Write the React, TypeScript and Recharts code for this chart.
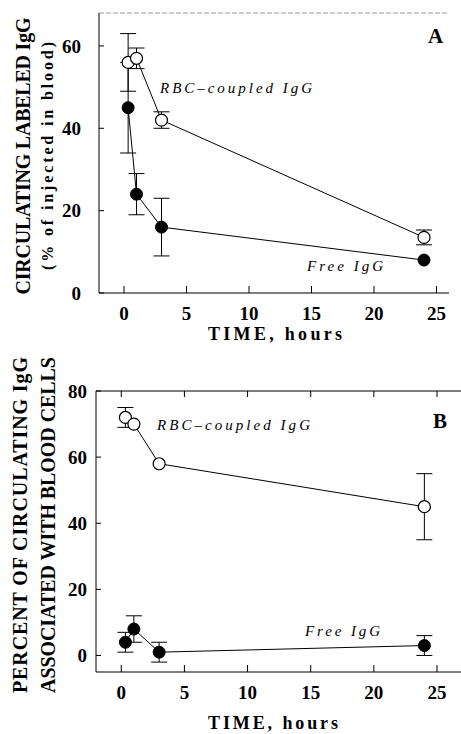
import React from "react";
import { LineChart, Line, XAxis, YAxis, ErrorBar } from "recharts";

// Sampling times (hours after injection)
const hours = [0.33, 1, 3, 24];

// Panel A: circulating labeled IgG, % of injected dose in blood
const rbcCirculating = [56, 57, 42, 13.5];
const rbcCirculatingErr = [7, 2.5, 2, 1.8];
const freeCirculating = [45, 24, 16, 8];
const freeCirculatingErr = [11, 5, 7, 0];

// Panel B: percent of circulating IgG associated with blood cells
const rbcCellBound = [72, 70, 58, 45];
const rbcCellBoundErr = [3, 0, 0, 10];
const freeCellBound = [4, 8, 1, 3];
const freeCellBoundErr = [3, 4, 3, 3];

const xTicks = [0, 5, 10, 15, 20, 25];
const yTicksA = [0, 20, 40, 60];
const yTicksB = [0, 20, 40, 60, 80];

const serif = "'Liberation Serif', 'Times New Roman', serif";

const rowsA = hours.map((t, i) => ({
  t,
  rbc: rbcCirculating[i],
  rbcErr: rbcCirculatingErr[i],
  free: freeCirculating[i],
  freeErr: freeCirculatingErr[i],
}));

const rowsB = hours.map((t, i) => ({
  t,
  rbc: rbcCellBound[i],
  rbcErr: rbcCellBoundErr[i],
  free: freeCellBound[i],
  freeErr: freeCellBoundErr[i],
}));

// y ticks: short inward mark, label to the left of the axis line
const makeYTick = (labelGap: number) => (props: any) => {
  const { x, y, payload } = props;
  return (
    <g>
      <line x1={x} x2={x + 5} y1={y} y2={y} stroke="#000" strokeWidth={1} />
      <text
        x={x - labelGap}
        y={y}
        dy="0.36em"
        textAnchor="end"
        fontFamily={serif}
        fontWeight="bold"
        fontSize={19}
        fill="#000"
      >
        {payload.value}
      </text>
    </g>
  );
};

// x ticks: inward (upward) mark, label below the axis line
const BottomTick = (props: any) => {
  const { x, y, payload } = props;
  return (
    <g>
      <line x1={x} x2={x} y1={y} y2={y - 7} stroke="#000" strokeWidth={1} />
      <text
        x={x}
        y={y + 20}
        dy="0.36em"
        textAnchor="middle"
        fontFamily={serif}
        fontWeight="bold"
        fontSize={19}
        fill="#000"
      >
        {payload.value}
      </text>
    </g>
  );
};

const TopTick = (props: any) => {
  const { x, y } = props;
  return <line x1={x} x2={x} y1={y} y2={y + 6} stroke="#000" strokeWidth={1} />;
};

const openDot = { r: 6, fill: "#fff", stroke: "#000", strokeWidth: 1.2 };
const filledDot = { r: 6, fill: "#000", stroke: "#000", strokeWidth: 1 };

const Annot = ({
  x,
  y,
  len,
  children,
  size = 15,
  italic = false,
  weight = "bold",
  rotate = false,
}: any) => (
  <text
    x={x}
    y={y}
    textAnchor={rotate ? "middle" : "start"}
    transform={rotate ? `rotate(-90 ${x} ${y})` : undefined}
    dy={rotate ? "0.36em" : undefined}
    fontFamily={serif}
    fontSize={size}
    fontWeight={weight}
    fontStyle={italic ? "italic" : "normal"}
    textLength={len}
    lengthAdjust="spacing"
    fill="#000"
  >
    {children}
  </text>
);

const AXIS_H = 40;
const AXIS_W = 60;

export default function App() {
  return (
    <div
      style={{
        position: "absolute",
        left: 0,
        top: 0,
        width: 461,
        height: 734,
        background: "#fff",
        overflow: "hidden",
      }}
    >
      {/* Panel A */}
      <div style={{ position: "absolute", left: 0, top: 0 }}>
        <LineChart
          width={461}
          height={350}
          data={rowsA}
          margin={{ top: 3, right: 12, bottom: 57 - AXIS_H, left: 99 - AXIS_W }}
        >
          <XAxis
            dataKey="t"
            type="number"
            domain={[-2, 26]}
            ticks={xTicks}
            height={AXIS_H}
            tickSize={0}
            tickMargin={0}
            tickLine={false}
            tick={BottomTick}
            stroke="#000"
            allowDataOverflow
          />
          <XAxis
            xAxisId="top"
            orientation="top"
            dataKey="t"
            type="number"
            domain={[-2, 26]}
            height={10}
            tick={false}
            tickLine={false}
            stroke="#999"
            strokeDasharray="5 2"
          />
          <YAxis
            type="number"
            domain={[0, 68]}
            ticks={yTicksA}
            width={AXIS_W}
            tickSize={0}
            tickMargin={0}
            tickLine={false}
            tick={makeYTick(18)}
            stroke="#000"
            allowDataOverflow
          />
          <Line
            dataKey="rbc"
            stroke="#000"
            strokeWidth={1}
            dot={openDot}
            activeDot={false}
            isAnimationActive={false}
          >
            <ErrorBar dataKey="rbcErr" width={8} stroke="#000" strokeWidth={1} direction="y" isAnimationActive={false} />
          </Line>
          <Line
            dataKey="free"
            stroke="#000"
            strokeWidth={1}
            dot={filledDot}
            activeDot={false}
            isAnimationActive={false}
          >
            <ErrorBar dataKey="freeErr" width={8} stroke="#000" strokeWidth={1} direction="y" isAnimationActive={false} />
          </Line>
        </LineChart>
      </div>

      {/* Panel B */}
      <div style={{ position: "absolute", left: 0, top: 360 }}>
        <LineChart
          width={461}
          height={374}
          data={rowsB}
          margin={{ top: 21, right: 0, bottom: 62 - AXIS_H, left: 96 - AXIS_W }}
        >
          <XAxis
            dataKey="t"
            type="number"
            domain={[-2, 26.9]}
            ticks={xTicks}
            height={AXIS_H}
            tickSize={0}
            tickMargin={0}
            tickLine={false}
            tick={BottomTick}
            stroke="#000"
            allowDataOverflow
          />
          <XAxis
            xAxisId="top"
            orientation="top"
            dataKey="t"
            type="number"
            domain={[-2, 26.9]}
            ticks={xTicks}
            height={10}
            tickSize={0}
            tickMargin={0}
            tickLine={false}
            tick={TopTick}
            stroke="#000"
          />
          <YAxis
            type="number"
            domain={[-5, 80]}
            ticks={yTicksB}
            width={AXIS_W}
            tickSize={0}
            tickMargin={0}
            tickLine={false}
            tick={makeYTick(9)}
            stroke="#000"
            allowDataOverflow
          />
          <Line
            dataKey="rbc"
            stroke="#000"
            strokeWidth={1}
            dot={openDot}
            activeDot={false}
            isAnimationActive={false}
          >
            <ErrorBar dataKey="rbcErr" width={8} stroke="#000" strokeWidth={1} direction="y" isAnimationActive={false} />
          </Line>
          <Line
            dataKey="free"
            stroke="#000"
            strokeWidth={1}
            dot={filledDot}
            activeDot={false}
            isAnimationActive={false}
          >
            <ErrorBar dataKey="freeErr" width={8} stroke="#000" strokeWidth={1} direction="y" isAnimationActive={false} />
          </Line>
        </LineChart>
      </div>

      {/* Titles and in-plot labels */}
      <svg
        width={461}
        height={734}
        style={{ position: "absolute", left: 0, top: 0, pointerEvents: "none" }}
      >
        <Annot x={23} y={156} len={277} size={20} rotate>
          CIRCULATING LABELED IgG
        </Annot>
        <Annot x={47} y={156} len={228} size={16} rotate>
          (% of injected in blood)
        </Annot>
        <Annot x={208} y={340} len={134} size={18}>
          TIME, hours
        </Annot>
        <Annot x={428} y={43} size={21}>
          A
        </Annot>
        <Annot x={160} y={93} len={152} size={15} italic weight="normal">
          RBC–coupled IgG
        </Annot>
        <Annot x={307} y={271} len={76} size={15} italic weight="normal">
          Free IgG
        </Annot>

        <Annot x={20} y={525} len={336} size={20} rotate>
          PERCENT OF CIRCULATING IgG
        </Annot>
        <Annot x={48} y={525} len={336} size={20} rotate>
          ASSOCIATED WITH BLOOD CELLS
        </Annot>
        <Annot x={208} y={729} len={130} size={18}>
          TIME, hours
        </Annot>
        <Annot x={433} y={428} size={21}>
          B
        </Annot>
        <Annot x={157} y={430} len={153} size={15} italic weight="normal">
          RBC–coupled IgG
        </Annot>
        <Annot x={305} y={636} len={75} size={15} italic weight="normal">
          Free IgG
        </Annot>
      </svg>
    </div>
  );
}
